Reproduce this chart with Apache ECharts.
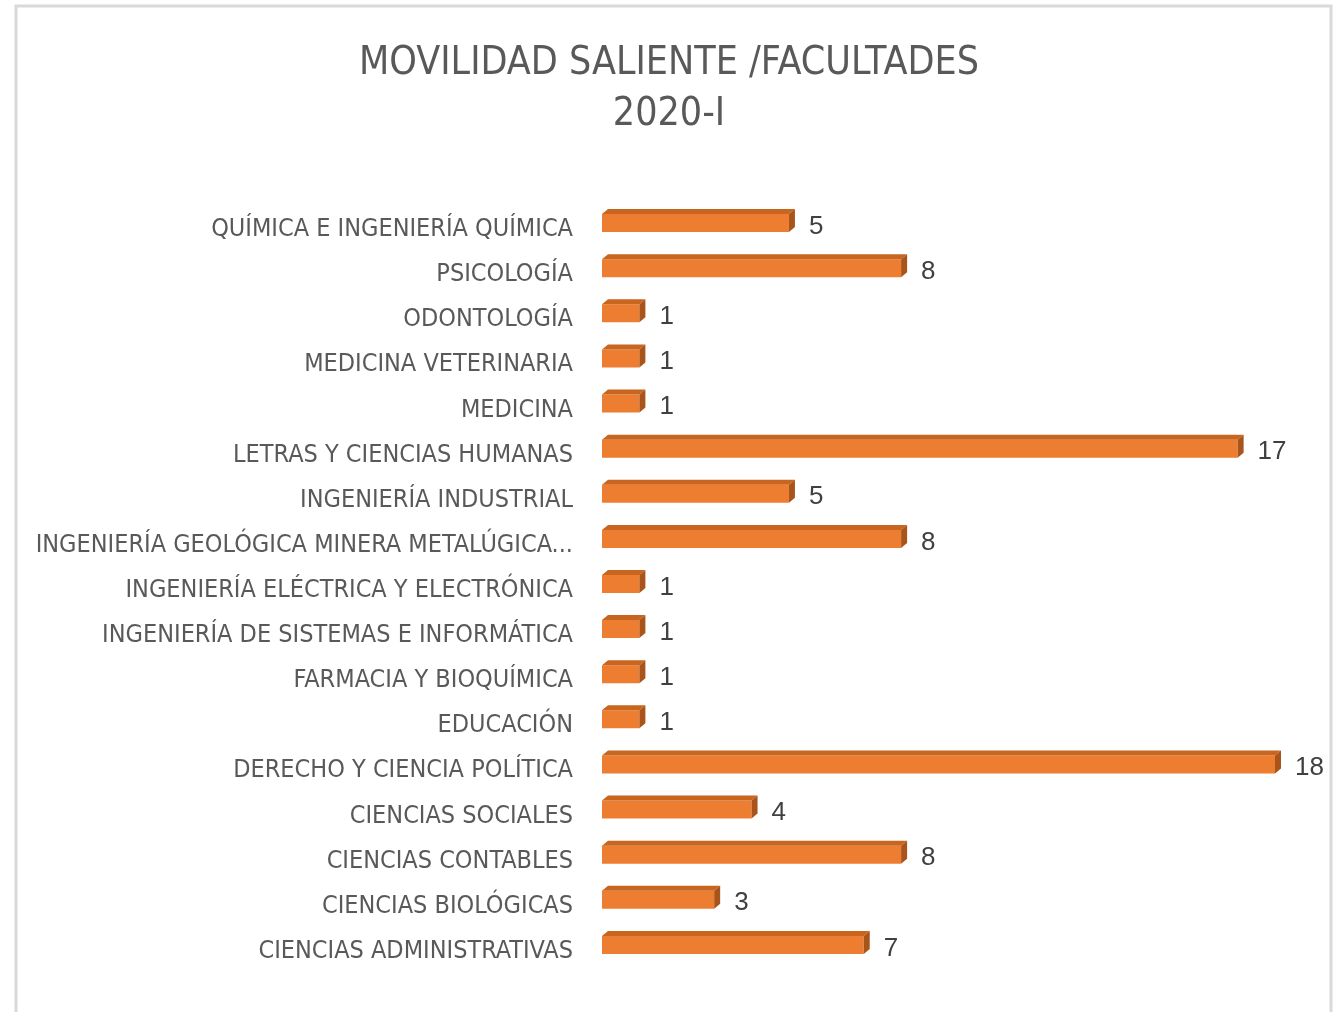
<!DOCTYPE html>
<html>
<head>
<meta charset="utf-8">
<script src="https://cdn.jsdelivr.net/npm/echarts@6/dist/echarts.min.js"></script>
<style>
  html, body { margin: 0; padding: 0; background: #fff; }
  #chart { width: 1338px; height: 1012px; }
</style>
</head>
<body>
<div id="chart"></div>
<script>
// facultades, de arriba hacia abajo
const facultades = [
    'QUÍMICA E INGENIERÍA QUÍMICA',
    'PSICOLOGÍA',
    'ODONTOLOGÍA',
    'MEDICINA VETERINARIA',
    'MEDICINA',
    'LETRAS Y CIENCIAS HUMANAS',
    'INGENIERÍA INDUSTRIAL',
    'INGENIERÍA GEOLÓGICA MINERA METALÚGICA Y GEOGRÁFICA',
    'INGENIERÍA ELÉCTRICA Y ELECTRÓNICA',
    'INGENIERÍA DE SISTEMAS E INFORMÁTICA',
    'FARMACIA Y BIOQUÍMICA',
    'EDUCACIÓN',
    'DERECHO Y CIENCIA POLÍTICA',
    'CIENCIAS SOCIALES',
    'CIENCIAS CONTABLES',
    'CIENCIAS BIOLÓGICAS',
    'CIENCIAS ADMINISTRATIVAS'
];
const estudiantes = [5, 8, 1, 1, 1, 17, 5, 8, 1, 1, 1, 1, 18, 4, 8, 3, 7];
const titulo = 'MOVILIDAD SALIENTE /FACULTADES\n2020-I';

const narrow = '"Liberation Sans Narrow", "Arial Narrow", "DejaVu Sans Condensed", sans-serif';

let myChart = echarts.init(document.getElementById('chart'));

// barra con efecto 3D: cara frontal, superior y lateral
function renderBar(params, api) {
    let x0 = api.coord([0, api.value(1)])[0];
    let end = api.coord([api.value(0), api.value(1)]);
    let x1 = end[0], cy = end[1];
    let dx = 6, dy = 5, h = 18;
    let top = cy - 9.5, bottom = top + h;
    return {
        type: 'group',
        children: [
            { type: 'rect', shape: { x: x0, y: top, width: x1 - x0, height: h },
              style: { fill: '#ED7D31' } },
            { type: 'polygon', shape: { points: [[x0, top], [x0 + dx, top - dy], [x1 + dx, top - dy], [x1, top]] },
              style: { fill: '#C8651E' } },
            { type: 'polygon', shape: { points: [[x1, top], [x1 + dx, top - dy], [x1 + dx, bottom - dy], [x1, bottom]] },
              style: { fill: '#A9541A' } },
            { type: 'text', style: { x: x1 + 20, y: cy + 3, text: String(api.value(0)),
              verticalAlign: 'middle', fill: '#404040', font: '26px "Liberation Sans", sans-serif' } }
        ]
    };
}

let option = {
    animation: false,
    title: {
        text: titulo,
        left: 'center',
        top: 33,
        textStyle: { fontFamily: narrow, fontSize: 39, fontWeight: 'normal', color: '#595959', lineHeight: 51 }
    },
    graphic: [{
        type: 'rect', shape: { x: 16, y: 6, width: 1315, height: 1030 },
        style: { fill: 'none', stroke: '#d9d9d9', lineWidth: 3 }, silent: true
    }],
    grid: { left: 602, right: 63, top: 201, bottom: 44 },
    xAxis: { type: 'value', min: 0, max: 18, show: false },
    yAxis: {
        type: 'category',
        inverse: true,
        data: facultades,
        axisLine: { show: false },
        axisTick: { show: false },
        axisLabel: {
            margin: 29,
            color: '#595959',
            fontFamily: narrow,
            fontSize: 25,
            formatter: function (v) {
                let t = echarts.format.truncateText(v, 578, '25px ' + narrow, '...');
                return '{a|' + t + '}';
            },
            rich: {
                a: { fontFamily: narrow, fontSize: 25, color: '#595959', padding: [12, 0, 0, 0] }
            }
        }
    },
    series: [{
        type: 'custom',
        renderItem: renderBar,
        encode: { x: 0, y: 1 },
        data: estudiantes.map(function (v, i) { return [v, i]; })
    }]
};
myChart.setOption(option);
</script>
</body>
</html>
